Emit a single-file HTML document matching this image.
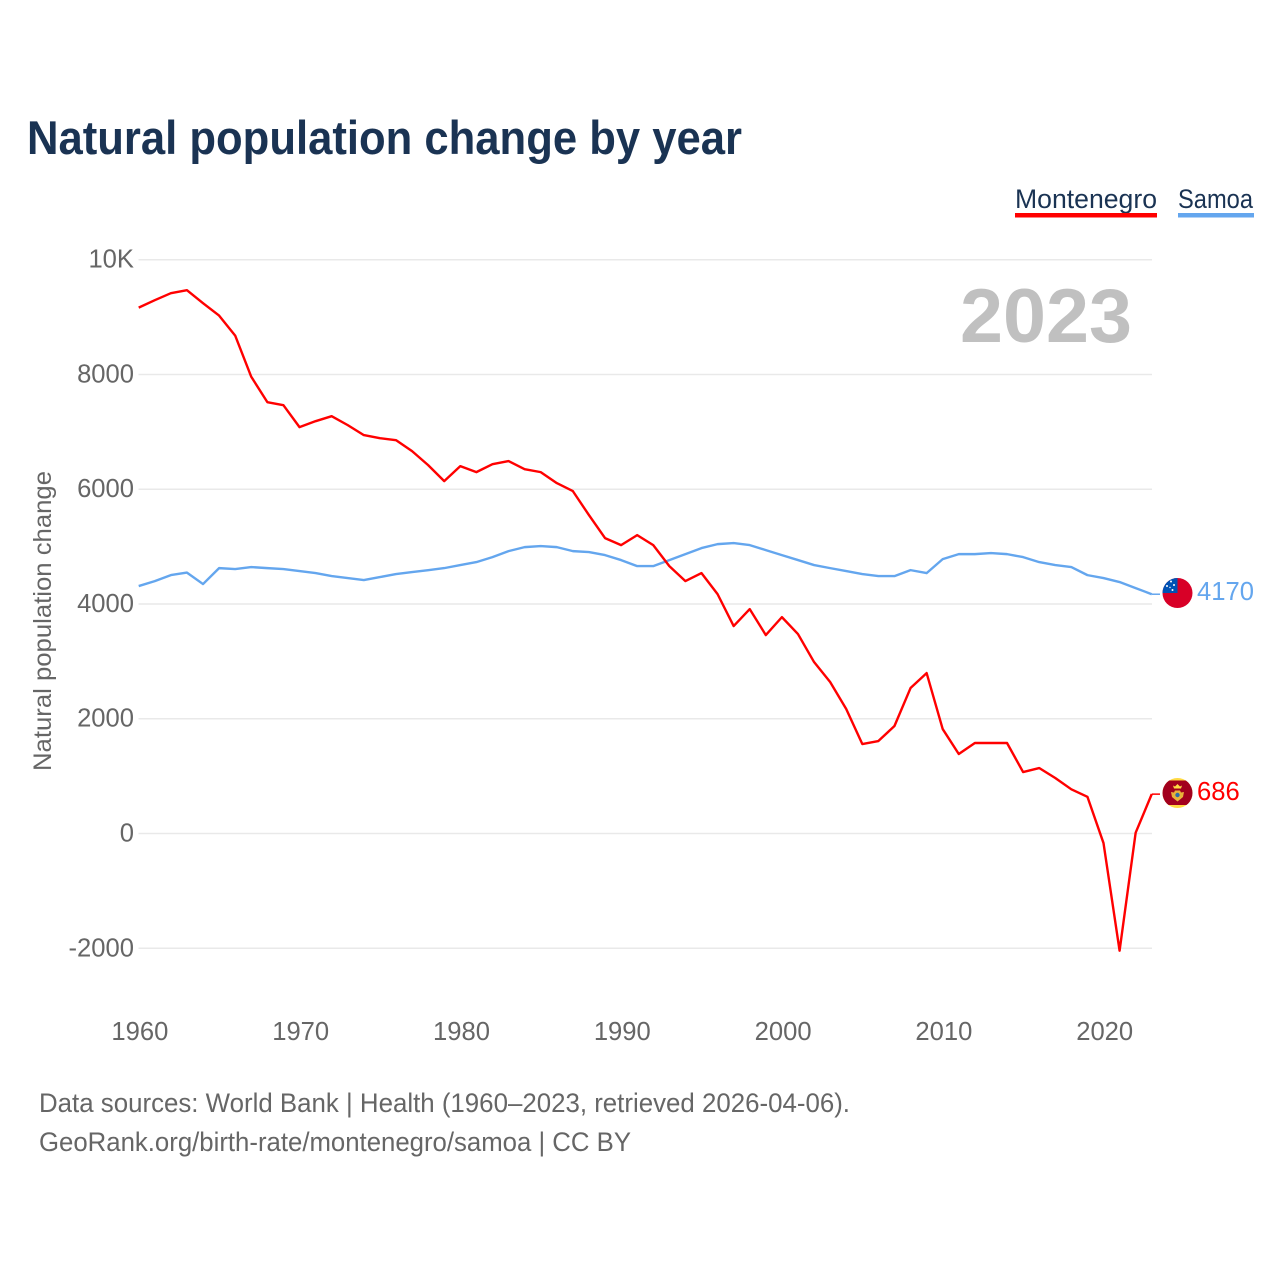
<!DOCTYPE html>
<html lang="en">
<head>
<meta charset="utf-8">
<title>Natural population change by year</title>
<style>
html,body{margin:0;padding:0;background:#fff}
svg{display:block}
text{font-family:"Liberation Sans",sans-serif}
</style>
</head>
<body>
<svg id="chart" xmlns="http://www.w3.org/2000/svg" width="1280" height="1280" viewBox="0 0 1280 1280">
  <rect width="1280" height="1280" fill="#fff"/>
  <text x="27" y="154" font-size="47" font-weight="700" fill="#1a3353" textLength="715" lengthAdjust="spacingAndGlyphs">Natural population change by year</text>

  <g>
    <g>
      <text x="1015" y="208" font-size="27" fill="#1a3353" textLength="142" lengthAdjust="spacingAndGlyphs">Montenegro</text>
      <rect x="1015" y="213" width="142" height="4.5" fill="#ff0000"/>
    </g>
    <g>
      <text x="1178" y="208" font-size="27" fill="#1a3353" textLength="75" lengthAdjust="spacingAndGlyphs">Samoa</text>
      <rect x="1178" y="213" width="76" height="4.5" fill="#64a6ee"/>
    </g>
  </g>

  <g id="grid"></g>
  <g id="y-ticks"></g>
  <g id="x-ticks"></g>

  <text x="1132" y="342" font-size="76" font-weight="700" fill="#c0c0c0" text-anchor="end" textLength="172" lengthAdjust="spacingAndGlyphs">2023</text>

  <text transform="translate(51,621) rotate(-90)" font-size="25" fill="#666" text-anchor="middle" textLength="300" lengthAdjust="spacingAndGlyphs">Natural population change</text>

  <g id="series"></g>

  <defs>
    <clipPath id="clip-samoa"><circle cx="1177.5" cy="593" r="15"/></clipPath>
    <clipPath id="clip-montenegro"><circle cx="1177.5" cy="793" r="15"/></clipPath>
  </defs>

  <g id="flag-samoa">
    <g clip-path="url(#clip-samoa)">
      <rect x="1162" y="578" width="31" height="30" fill="#d80027"/>
      <rect x="1162" y="578" width="15.5" height="15" fill="#0052b4"/>
      <g fill="#fff">
        <circle cx="1171" cy="581.5" r="1"/>
        <circle cx="1174" cy="585" r="1"/>
        <circle cx="1167" cy="586" r="1"/>
        <circle cx="1172.5" cy="590" r="1"/>
        <circle cx="1170" cy="587.500" r="0.7"/>
      </g>
    </g>
  </g>
  <g id="flag-montenegro">
    <g clip-path="url(#clip-montenegro)">
      <rect x="1162" y="778" width="31" height="30" fill="#ffda44"/>
      <rect x="1162" y="780.500" width="31" height="24.500" fill="#a2001d"/>
      <path d="M1174 788.500h7l1-3-2 1-2.500-2.500-2.500 2.500-2-1z" fill="#ffda44"/>
      <path d="M1171 792l3 .5 1-2h5l1 2 3-.5-1 5-3 2.500-2.500 2-2.500-2-3-2.500z" fill="#e8b23a"/>
      <circle cx="1177.5" cy="795" r="2.200" fill="#2e6ea8"/>
    </g>
  </g>

  <text id="label-samoa" x="1197" y="600" font-size="25.6" fill="#64a6ee">4170</text>
  <text id="label-montenegro" x="1197" y="800" font-size="25.6" fill="#ff0000">686</text>

  <g>
    <text x="39" y="1112" font-size="27" fill="#666" textLength="811" lengthAdjust="spacingAndGlyphs">Data sources: World Bank | Health (1960–2023, retrieved 2026-04-06).</text>
    <text x="39" y="1151" font-size="27" fill="#666" textLength="592" lengthAdjust="spacingAndGlyphs">GeoRank.org/birth-rate/montenegro/samoa | CC BY</text>
  </g>
</svg>

<script>
const startYear = 1960;
const xTickYears = [1960, 1970, 1980, 1990, 2000, 2010, 2020];
const yTickValues = [-2000, 0, 2000, 4000, 6000, 8000, 10000];
const yTickLabels = ['-2000', '0', '2000', '4000', '6000', '8000', '10K'];
const montenegroValues = [
  9165, 9294, 9416, 9469, 9243, 9026, 8677, 7960, 7517, 7465,
  7082, 7186, 7273, 7117, 6943, 6890, 6855, 6664, 6420, 6141,
  6402, 6298, 6437, 6490, 6350, 6298, 6107, 5967, 5549, 5148,
  5026, 5200, 5026, 4660, 4399, 4538, 4172, 3615, 3911, 3458,
  3771, 3476, 2988, 2640, 2169, 1559, 1611, 1873, 2535, 2796,
  1820, 1385, 1577, 1577, 1577, 1071, 1141, 967, 770, 640,
  -167, -2042, 14, 686
];
const samoaValues = [
  4312, 4399, 4503, 4547, 4347, 4625, 4608, 4643, 4625, 4608,
  4573, 4538, 4486, 4451, 4416, 4469, 4521, 4556, 4590, 4625,
  4678, 4730, 4817, 4921, 4991, 5009, 4991, 4921, 4904, 4852,
  4765, 4660, 4660, 4765, 4869, 4974, 5043, 5061, 5026, 4939,
  4852, 4765, 4678, 4625, 4573, 4521, 4486, 4486, 4590, 4538,
  4782, 4869, 4869, 4887, 4869, 4817, 4730, 4678, 4643, 4503,
  4451, 4382, 4277, 4170
];

const NS = 'http://www.w3.org/2000/svg';
function xScale(year) { return 138.7 + (year - 1960) * 16.08; }
function yScale(value) { return 833.5 - value * 0.05738; }

const grid = document.getElementById('grid');
const yTicks = document.getElementById('y-ticks');
const xTicks = document.getElementById('x-ticks');
const seriesGroup = document.getElementById('series');

yTickValues.forEach(function (v, i) {
  const line = document.createElementNS(NS, 'line');
  
  
  line.setAttribute('x1', 138.5);
  line.setAttribute('x2', 1152);
  line.setAttribute('y1', yScale(v));
  line.setAttribute('y2', yScale(v));
  line.setAttribute('stroke', '#e9e9e9');
  line.setAttribute('stroke-width', '1.5');
  grid.appendChild(line);

  const label = document.createElementNS(NS, 'text');
  
  
  label.setAttribute('x', 134);
  label.setAttribute('y', yScale(v) + 8);
  label.setAttribute('text-anchor', 'end');
  label.setAttribute('font-size', '25.6');
  label.setAttribute('fill', '#666');
  label.textContent = yTickLabels[i];
  yTicks.appendChild(label);
});

xTickYears.forEach(function (yr) {
  const label = document.createElementNS(NS, 'text');
  
  
  label.setAttribute('x', xScale(yr) + 1.2);
  label.setAttribute('y', 1040);
  label.setAttribute('text-anchor', 'middle');
  label.setAttribute('font-size', '25.6');
  label.setAttribute('fill', '#666');
  label.textContent = String(yr);
  xTicks.appendChild(label);
});

function pathFor(values) {
  return values.map(function (v, i) {
    return (i ? 'L' : 'M') + xScale(startYear + i).toFixed(2) + ' ' + yScale(v).toFixed(2);
  }).join(' ');
}

function drawSeries(values, color, name) {
  const path = document.createElementNS(NS, 'path');
  
  
  path.setAttribute('d', pathFor(values));
  path.setAttribute('fill', 'none');
  path.setAttribute('stroke', color);
  path.setAttribute('stroke-width', '2.4');
  path.setAttribute('stroke-linejoin', 'round');
  seriesGroup.appendChild(path);

  const last = values[values.length - 1];
  const lead = document.createElementNS(NS, 'line');
  
  
  lead.setAttribute('x1', xScale(startYear + values.length - 1));
  lead.setAttribute('x2', 1160);
  lead.setAttribute('y1', yScale(last));
  lead.setAttribute('y2', yScale(last));
  lead.setAttribute('stroke', color);
  lead.setAttribute('stroke-width', '1.5');
  seriesGroup.appendChild(lead);
}

drawSeries(samoaValues, '#64a6ee', 'samoa-line');
drawSeries(montenegroValues, '#ff0000', 'montenegro-line');

document.getElementById('label-samoa').textContent = String(samoaValues[samoaValues.length - 1]);
document.getElementById('label-montenegro').textContent = String(montenegroValues[montenegroValues.length - 1]);
</script>
</body>
</html>
